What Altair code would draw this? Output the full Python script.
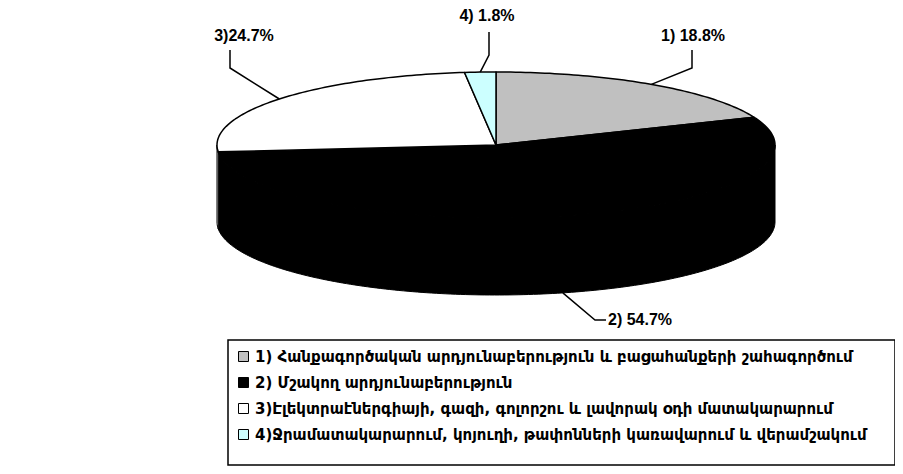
import math
import altair as alt

# ---------------- data ----------------
categories = [
    "1) Հանքագործական արդյունաբերություն և բացահանքերի շահագործում",
    "2) Մշակող արդյունաբերություն",
    "3)Էլեկտրաէներգիայի, գազի, գոլորշու և լավորակ օդի մատակարարում",
    "4)Ջրամատակարարում, կոյուղի, թափոնների կառավարում և վերամշակում",
]
shares = [18.8, 54.7, 24.7, 1.8]
slice_labels = ["1) 18.8%", "2) 54.7%", "3)24.7%", "4) 1.8%"]
colors = ["#C0C0C0", "#000000", "#FFFFFF", "#CCFFFF"]

# ---------------- layout (plot-area pixel coords) ----------------
CX, CY = 488, 137      # centre of top face
RX, RY = 279, 73       # ellipse radii
DEPTH = 77             # pie thickness
FRAME = (220, 332, 887, 457)   # legend frame: left, top, right, bottom

def pt(t_deg, dy=0.0):
    t = math.radians(t_deg)
    return [CX + RX * math.sin(t), CY - RY * math.cos(t) + dy]

def arc(t1, t2, dy=0.0, step=1.0):
    n = max(2, int(abs(t2 - t1) / step) + 1)
    return [pt(t1 + (t2 - t1) * i / (n - 1), dy) for i in range(n)]

total = sum(shares)
bounds = []
acc = 0.0
for s in shares:
    a0 = acc / total * 360.0
    acc += s
    bounds.append((a0, acc / total * 360.0))

side_feats, top_feats = [], []
for cat, (a0, a1) in zip(categories, bounds):
    lo, hi = max(a0, 90.0), min(a1, 270.0)
    if hi > lo:
        ring = arc(lo, hi) + arc(hi, lo, DEPTH)
        ring.append(ring[0])
        side_feats.append({"type": "Feature", "properties": {"cat": cat},
                           "geometry": {"type": "Polygon", "coordinates": [ring]}})
    ring = [[CX, CY]] + arc(a0, a1) + [[CX, CY]]
    top_feats.append({"type": "Feature", "properties": {"cat": cat},
                      "geometry": {"type": "Polygon", "coordinates": [ring]}})

# label placement: (text anchor, elbow points); anchor on slice mid-angle
mids = [(a0 + a1) / 2 for a0, a1 in bounds]
label_pos = [
    {"x": 685, "y": 28, "align": "center", "elbow": [[684, 60], [684, 42]], "dy": 0},
    {"x": 600, "y": 312, "align": "left", "elbow": [[587, 312], [598, 312]], "dy": DEPTH},
    {"x": 236, "y": 28, "align": "center", "elbow": [[222, 60], [222, 42]], "dy": 0},
    {"x": 479, "y": 8, "align": "center", "elbow": [[481, 47], [481, 24]], "dy": 0},
]

line_feats, text_rows = [], []
for lab, m, lp in zip(slice_labels, mids, label_pos):
    coords = [pt(m, lp["dy"])] + lp["elbow"]
    line_feats.append({"type": "Feature", "properties": {"lab": lab},
                       "geometry": {"type": "LineString", "coordinates": coords}})
    text_rows.append({"lon": lp["x"], "lat": lp["y"], "label": lab, "align": lp["align"]})

l, t, r, b = FRAME
frame_feat = [{"type": "Feature", "properties": {"name": "frame"},
               "geometry": {"type": "Polygon",
                            "coordinates": [[[l, t], [r, t], [r, b], [l, b], [l, t]]]}}]

color_scale = alt.Scale(domain=categories, range=colors)
legend = alt.Legend(
    title=None, orient="none", legendX=220, legendY=333,
    symbolType="square", symbolSize=100, symbolStrokeColor="black",
    symbolStrokeWidth=1, labelFont="DejaVu Sans", labelFontSize=15,
    labelFontWeight="bold", labelColor="black", labelLimit=0,
    rowPadding=10, labelOffset=4, padding=8,
)

frame = alt.Chart(alt.Data(values=frame_feat)).mark_geoshape(
    filled=False, strokeWidth=1.5
).encode(color=alt.value("black"))

sides = alt.Chart(alt.Data(values=side_feats)).mark_geoshape(
    stroke="black", strokeWidth=1
).encode(color=alt.Color("properties.cat:N", scale=color_scale, legend=legend, sort=None))

tops = alt.Chart(alt.Data(values=top_feats)).mark_geoshape(
    stroke="black", strokeWidth=1.5, strokeJoin="round"
).encode(color=alt.Color("properties.cat:N", scale=color_scale, legend=legend, sort=None))

leaders = alt.Chart(alt.Data(values=line_feats)).mark_geoshape(
    filled=False, strokeWidth=1.5
).encode(color=alt.value("black"))

text_df = alt.Data(values=[r for r in text_rows if r["align"] == "center"])
text_left = alt.Data(values=[r for r in text_rows if r["align"] == "left"])

labels_c = alt.Chart(text_df).mark_text(
    font="Liberation Sans", fontWeight="bold", fontSize=16, align="center",
    baseline="middle", color="black"
).encode(longitude="lon:Q", latitude="lat:Q", text="label:N")

labels_l = alt.Chart(text_left).mark_text(
    font="Liberation Sans", fontWeight="bold", fontSize=16, align="left",
    baseline="middle", color="black"
).encode(longitude="lon:Q", latitude="lat:Q", text="label:N")

chart = alt.layer(frame, sides, tops, leaders, labels_c, labels_l).project(
    type="identity", scale=1, translate=[0, 0]
).properties(
    width=887, height=458, padding=0, autosize="none"
).configure_view(stroke=None)

chart.save("out.html", embed_options={"renderer": "svg", "actions": False})
